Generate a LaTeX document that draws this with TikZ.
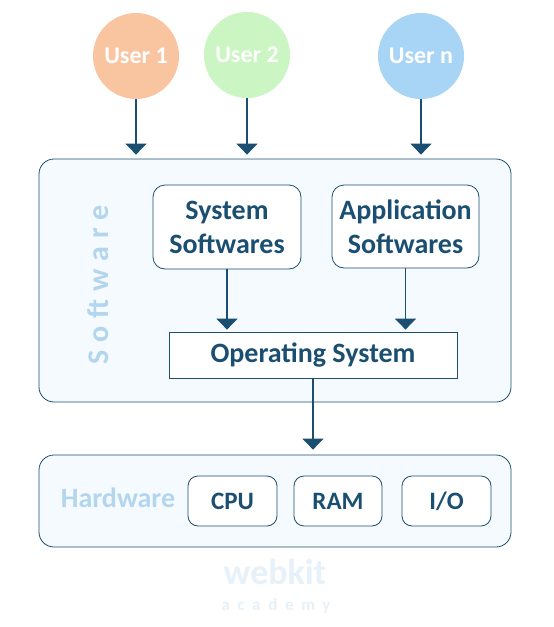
\documentclass[tikz,border=0pt]{standalone}
\usepackage{fontspec}
\setmainfont{Carlito}
\newfontfamily\spacedfont[LetterSpace=26]{Carlito}
\newfontfamily\markfont[LetterSpace=45]{Carlito}
\usetikzlibrary{arrows.meta}
\definecolor{navy}{HTML}{1B4F72}
\definecolor{paleblue}{HTML}{F4FAFE}
\definecolor{labelblue}{HTML}{B3D6EE}
\definecolor{wmblue}{HTML}{E6F1FA}
\definecolor{userone}{HTML}{F9C5A1}
\definecolor{usertwo}{HTML}{CBF5C2}
\definecolor{usern}{HTML}{A8D5F5}
\tikzset{
  user/.style={circle, minimum size=86pt, inner sep=0pt, text=white,
    font=\bfseries\fontsize{24}{28}\selectfont},
  bigbox/.style={draw=navy, fill=paleblue, rounded corners=15pt, line width=0.8pt},
  softbox/.style={draw=navy, fill=white, rounded corners=12pt, line width=0.8pt,
    text=navy, align=center, font=\bfseries\fontsize{28}{34}\selectfont},
  osbox/.style={draw=navy, fill=white, line width=0.8pt, text=navy,
    font=\bfseries\fontsize{28}{32}\selectfont},
  hwbox/.style={draw=navy, fill=white, rounded corners=10pt, line width=0.8pt,
    text=navy, minimum height=50pt, font=\bfseries\fontsize{25}{28}\selectfont},
  flow/.style={draw=navy, line width=1.3pt, -{Triangle[width=21pt,length=11pt]}}
}
\begin{document}
\begin{tikzpicture}[x=1pt, y=-1pt]
  \useasboundingbox[fill=white] (0,0) rectangle (554,627);
  %%%%%%%%%%%%% users %%%%%%%%%%%%%
  \node[user, fill=userone] (u1) at (136,56) {User 1};
  \node[user, fill=usertwo] (u2) at (247,55) {User 2};
  \node[user, fill=usern] (un) at (421,56) {User n};

  %%%%%%%%%%%%% software %%%%%%%%%%%%%
  \node[bigbox, minimum width=472pt, minimum height=243pt] (sw) at (275,280.5) {};
  \node[rotate=90, text=labelblue, font=\spacedfont\bfseries\fontsize{30}{32}\selectfont] (swlabel) at (98,285) {Software};
  \node[softbox, minimum width=148pt, minimum height=84pt] (sys) at (227,227) {System\\Softwares};
  \node[softbox, minimum width=147pt, minimum height=83pt] (app) at (405.5,226.5) {Application\\Softwares};
  \node[osbox, minimum width=288pt, minimum height=46pt] (os) at (313,355) {Operating System};

  %%%%%%%%%%%%% hardware %%%%%%%%%%%%%
  \node[bigbox, minimum width=472pt, minimum height=92pt] (hw) at (275,501) {};
  \node[text=labelblue, font=\bfseries\fontsize{28}{30}\selectfont] (hwlabel) at (118,498) {Hardware};
  \node[hwbox, minimum width=89pt] (cpu) at (232.5,501) {CPU};
  \node[hwbox, minimum width=88pt] (ram) at (338,501) {RAM};
  \node[hwbox, minimum width=89pt] (io) at (446.5,501) {I/O};

  %%%%%%%%%%%%% arrows %%%%%%%%%%%%%
  \draw[flow, shorten >=4pt] (u1) -- (u1 |- sw.north);
  \draw[flow, shorten >=4pt] (u2) -- (u2 |- sw.north);
  \draw[flow, shorten >=4pt] (un) -- (un |- sw.north);
  \draw[flow, shorten >=2pt] (sys.south) -- (sys.south |- os.north);
  \draw[flow, shorten >=2pt] (app.south) -- (app.south |- os.north);
  \draw[flow, shorten >=5pt] (os.south) -- (os.south |- hw.north);

  %%%%%%%%%%%%% watermark %%%%%%%%%%%%%
  \node[text=wmblue, font=\bfseries\fontsize{36}{38}\selectfont] (wm) at (275,572) {webkit};
  \node[text=wmblue, font=\markfont\bfseries\fontsize{17}{19}\selectfont] (wmsub) at (276,606) {academy};
\end{tikzpicture}
\end{document}
